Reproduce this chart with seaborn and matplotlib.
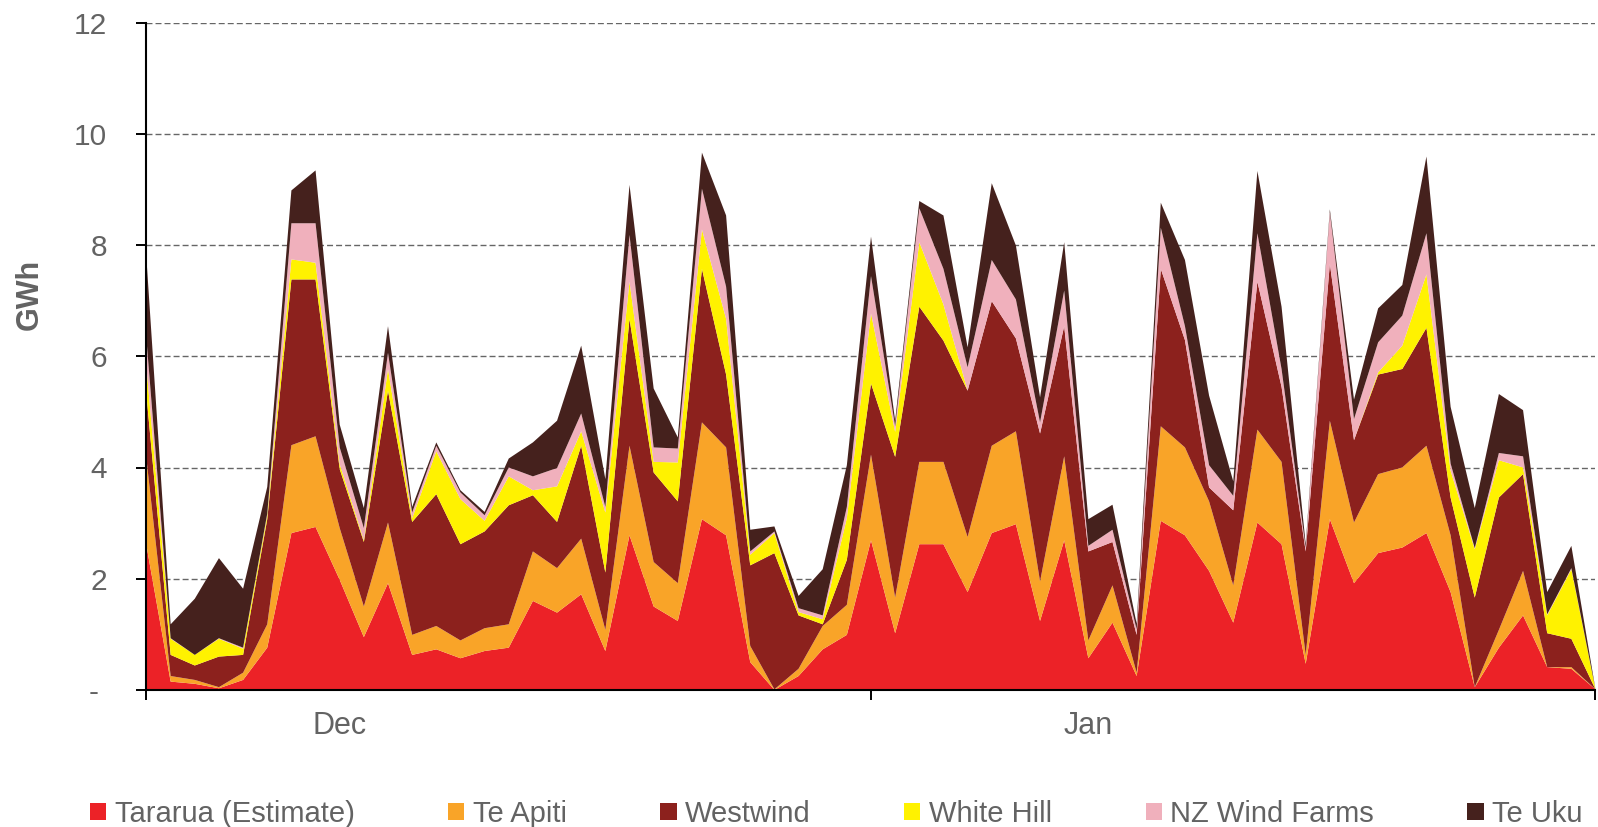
"""
Daily wind generation by farm, stacked area (GWh).
"""

import numpy as np
import pandas as pd
import matplotlib
matplotlib.use('Agg')
import matplotlib.pyplot as plt
import seaborn as sns
from matplotlib.patches import Patch

# Daily generation per farm (GWh)
tararua = [2.60, 0.16, 0.12, 0.04, 0.19, 0.77, 2.83, 2.94, 1.99, 0.96,
           1.93, 0.64, 0.74, 0.58, 0.71, 0.77, 1.61, 1.40, 1.73, 0.71,
           2.79, 1.51, 1.25, 3.08, 2.79, 0.51, 0.01, 0.26, 0.74, 1.00,
           2.70, 1.03, 2.63, 2.63, 1.77, 2.83, 2.99, 1.25, 2.70, 0.58,
           1.22, 0.26, 3.05, 2.79, 2.15, 1.22, 3.02, 2.63, 0.48, 3.08,
           1.93, 2.47, 2.57, 2.83, 1.77, 0.06, 0.77, 1.35, 0.42, 0.39, 0.02]
te_apiti = [1.55, 0.10, 0.07, 0.02, 0.13, 0.42, 1.58, 1.63, 0.93, 0.55,
            1.09, 0.36, 0.42, 0.32, 0.41, 0.42, 0.89, 0.80, 1.00, 0.38,
            1.61, 0.80, 0.68, 1.74, 1.58, 0.29, 0.01, 0.13, 0.42, 0.54,
            1.54, 0.64, 1.48, 1.48, 0.99, 1.57, 1.67, 0.71, 1.51, 0.32,
            0.67, 0.06, 1.70, 1.58, 1.25, 0.67, 1.67, 1.48, 0.16, 1.77,
            1.09, 1.42, 1.44, 1.57, 1.02, 0.00, 0.32, 0.80, 0.00, 0.03, 0.00]
westwind = [1.15, 0.38, 0.26, 0.55, 0.32, 1.89, 2.98, 2.82, 1.06, 1.16,
            2.37, 2.03, 2.37, 1.73, 1.74, 2.14, 1.01, 0.83, 1.67, 1.03,
            2.28, 1.61, 1.47, 2.76, 1.31, 1.45, 2.45, 0.96, 0.03, 0.81,
            1.28, 2.53, 2.79, 2.18, 2.63, 2.60, 1.67, 2.66, 2.34, 1.60,
            0.78, 0.68, 2.83, 1.93, 0.25, 1.35, 2.66, 1.35, 1.86, 2.82,
            1.48, 1.79, 1.77, 2.12, 0.68, 1.61, 2.38, 1.74, 0.61, 0.51, 0.00]
white_hill = [0.50, 0.29, 0.19, 0.32, 0.11, 0.07, 0.36, 0.30, 0.09, 0.03,
              0.39, 0.07, 0.77, 0.81, 0.19, 0.52, 0.09, 0.64, 0.26, 1.08,
              0.67, 0.19, 0.70, 0.71, 1.00, 0.19, 0.36, 0.06, 0.09, 0.75,
              1.26, 0.45, 1.16, 0.65, 0.00, 0.00, 0.00, 0.00, 0.00, 0.00,
              0.00, 0.00, 0.00, 0.00, 0.00, 0.00, 0.00, 0.00, 0.00, 0.00,
              0.00, 0.04, 0.42, 0.96, 0.48, 0.87, 0.67, 0.12, 0.32, 1.25, 0.00]
nz_wind_farms = [0.50, 0.01, 0.00, 0.01, 0.02, 0.03, 0.65, 0.71, 0.30, 0.22,
                 0.29, 0.10, 0.10, 0.12, 0.10, 0.16, 0.25, 0.33, 0.32, 0.10,
                 0.84, 0.26, 0.25, 0.73, 0.58, 0.06, 0.03, 0.07, 0.07, 0.20,
                 0.67, 0.10, 0.61, 0.64, 0.42, 0.74, 0.70, 0.20, 0.64, 0.10,
                 0.22, 0.10, 0.74, 0.25, 0.40, 0.26, 0.87, 0.32, 0.07, 0.93,
                 0.38, 0.54, 0.54, 0.74, 0.13, 0.02, 0.13, 0.20, 0.02, 0.02, 0.00]
te_uku = [1.45, 0.25, 1.01, 1.44, 1.06, 0.48, 0.59, 0.95, 0.41, 0.36,
          0.48, 0.10, 0.06, 0.04, 0.06, 0.16, 0.61, 0.85, 1.22, 0.50,
          0.90, 1.06, 0.20, 0.65, 1.28, 0.39, 0.09, 0.22, 0.83, 0.75,
          0.71, 0.10, 0.13, 0.96, 0.36, 1.38, 0.97, 0.45, 0.87, 0.48,
          0.45, 0.10, 0.45, 1.19, 1.25, 0.26, 1.12, 1.12, 0.06, 0.05,
          0.35, 0.61, 0.55, 1.38, 1.02, 0.72, 1.06, 0.83, 0.40, 0.40, 0.00]

SERIES = ['Tararua (Estimate)', 'Te Apiti', 'Westwind', 'White Hill',
          'NZ Wind Farms', 'Te Uku']
COLORS = ['#EC2227', '#F9A428', '#8C211D', '#FFF200', '#F0B0BC', '#45211D']

month_labels = ['Dec', 'Jan']
month_label_pos = [8, 39]
y_ticks = [0, 2, 4, 6, 8, 10, 12]
y_tick_labels = ['- ', '2', '4', '6', '8', '10', '12']

GREY = '#636363'

if __name__ == "__main__":
    df = pd.DataFrame({
        SERIES[0]: tararua, SERIES[1]: te_apiti, SERIES[2]: westwind,
        SERIES[3]: white_hill, SERIES[4]: nz_wind_farms, SERIES[5]: te_uku,
    })
    df.index.name = 'day'

    sns.set_theme(style='white')
    plt.rcParams['font.family'] = ['Liberation Sans', 'DejaVu Sans']

    fig = plt.figure(figsize=(15.98, 8.27), dpi=100)
    ax = fig.add_axes([146 / 1598, 1 - 690 / 827, 1449 / 1598, (690 - 22.5) / 827])

    ax.stackplot(df.index, [df[s] for s in SERIES], colors=COLORS,
                 linewidth=0, zorder=2)

    ax.set_xlim(0, len(df) - 1)
    ax.set_ylim(0, 12)
    ax.set_yticks(y_ticks)
    ax.set_yticklabels(y_tick_labels, color=GREY, fontsize=21.5)
    ax.yaxis.grid(True, linestyle=(0, (4.3, 2.2)), color='#666666', linewidth=1.0, zorder=0)
    ax.xaxis.grid(False)

    ax.set_xticks([0, 30, 60])
    ax.set_xticklabels(['', '', ''])
    ax.set_xticks(month_label_pos, minor=True)
    ax.set_xticklabels(month_labels, minor=True, color=GREY, fontsize=22)
    ax.tick_params(axis='x', which='major', direction='out', length=7.2, width=1.4,
                   color='black', bottom=True)
    ax.tick_params(axis='x', which='minor', length=0, pad=15)
    ax.tick_params(axis='y', direction='out', length=7.2, width=1.4, color='black',
                   left=True, pad=21)

    for side in ['top', 'right']:
        ax.spines[side].set_visible(False)
    for side in ['left', 'bottom']:
        ax.spines[side].set_color('black')
        ax.spines[side].set_linewidth(1.5)

    ax.set_ylabel('GWh', color=GREY, fontsize=22, fontweight='bold', va='center')
    ax.yaxis.set_label_coords(-0.0805, 0.592)

    handles = [Patch(facecolor=c, edgecolor='none') for c in COLORS]
    fig.legend(handles, SERIES, loc='center', bbox_to_anchor=(0.5235, 0.016),
               ncol=6, frameon=False, fontsize=21, labelcolor=GREY,
               handlelength=0.55, handleheight=0.55, handletextpad=0.3,
               columnspacing=3.2)

    fig.savefig('out.png', dpi=100)
    plt.close(fig)
